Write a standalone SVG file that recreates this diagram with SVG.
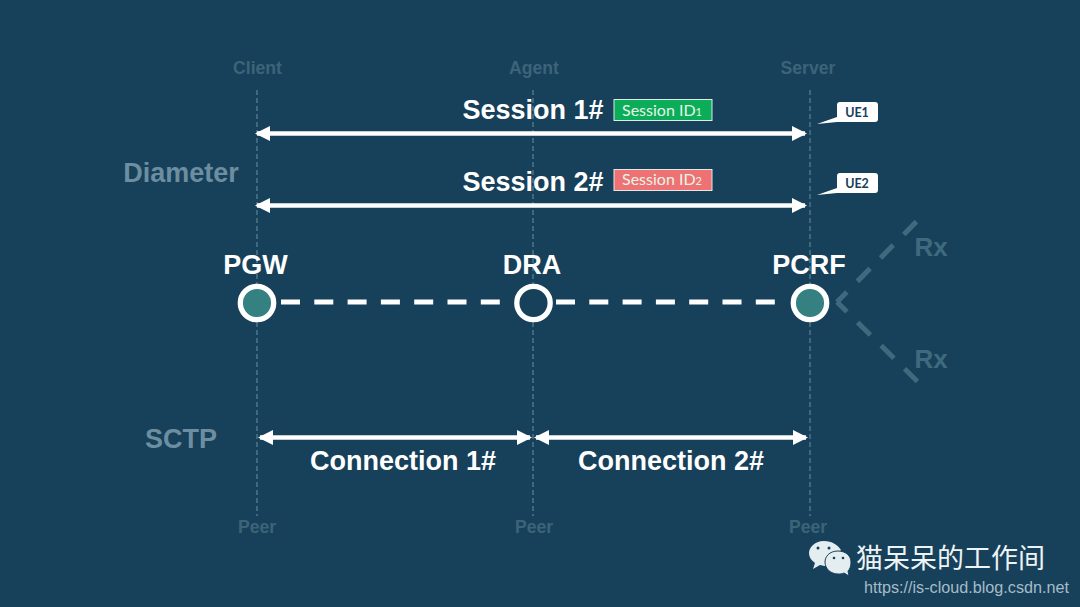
<svg xmlns="http://www.w3.org/2000/svg" width="1080" height="607" viewBox="0 0 1080 607">
<defs>
<style>
text{font-family:"Liberation Sans",Arial,"Noto Sans CJK SC",sans-serif;text-anchor:middle}
.w{fill:#fff;font-weight:700;font-size:27px}
.dim{fill:#3c6479;font-weight:700;font-size:17.600px}
.side{fill:#6c8ea0;font-weight:700;font-size:27px}
.rx{fill:#3f6a7e;font-weight:700;font-size:26px}
.guide{stroke:#6a909f;stroke-width:1;stroke-dasharray:5 3;fill:none}
.arrow{stroke:#fff;stroke-width:4.500;fill:none;marker-start:url(#a);marker-end:url(#a)}
.link{stroke:#fff;stroke-width:5;stroke-dasharray:19 14.300;fill:none}
.rxl{stroke:#3f6a7e;stroke-width:5;stroke-dasharray:18 15;stroke-dashoffset:4;fill:none}
.node{stroke:#fff;stroke-width:5.300}
.ue{fill:#fff}
.uet{fill:#17405a;font-weight:700;font-size:12.500px}
.tag{stroke:#dfe9e6;stroke-width:1}
.tagt{font-size:16px;fill:#e6f5ea}
.tagt,.uet{font-family:Lato,"Liberation Sans",sans-serif}
</style>
<marker id="a" viewBox="0 0 15 15" refX="13" refY="7.500" markerWidth="15" markerHeight="15" markerUnits="userSpaceOnUse" orient="auto-start-reverse"><path d="M0 0L15 7.500L0 15Z" fill="#fff"/></marker>
</defs>
<rect width="1080" height="607" fill="#17405a"/>
<g id="connectors">
<path class="guide" d="M257 90V516M533 90V516M810 90V516"/>
<path class="arrow" d="M257 133.500H805"/>
<path class="arrow" d="M257 205.500H805"/>
<path class="arrow" d="M260 437.500H530"/>
<path class="arrow" d="M536 437.500H806"/>
<path class="link" d="M281 302H500"/>
<path class="link" d="M556 302H778"/>
<path class="rxl" d="M837 302L920 218"/>
<path class="rxl" d="M837 302L921 385"/>
</g>
<g id="label-client"><text class="dim" x="257.500" y="74">Client</text></g>
<g id="label-agent"><text class="dim" x="534" y="74">Agent</text></g>
<g id="label-server"><text class="dim" x="808" y="74">Server</text></g>
<g id="label-peers"><text class="dim" x="257" y="532.500">Peer</text><text class="dim" x="534" y="532.500">Peer</text><text class="dim" x="808" y="532.500">Peer</text></g>
<g id="diameter"><text class="side" x="181" y="182">Diameter</text></g>
<g id="sctp"><text class="side" x="181" y="448">SCTP</text></g>
<g id="session1"><text class="w" x="533" y="118.700">Session 1#</text></g>
<g id="session2"><text class="w" x="533" y="190.700">Session 2#</text></g>
<g id="tag1"><rect class="tag" x="614" y="99.500" width="98" height="21" fill="#0bad58"/><text class="tagt" x="662" y="115.500">Session ID<tspan font-size="11">1</tspan></text></g>
<g id="tag2"><rect class="tag" x="614" y="169.500" width="98" height="21" fill="#ee7273"/><text class="tagt" x="662" y="185">Session ID<tspan font-size="11">2</tspan></text></g>
<g id="ue1"><path class="ue" d="M817 124L837 117V105Q837 102 840 102H875Q878 102 878 105V119Q878 122 875 122H837Z"/><text class="uet" x="857" y="116.500">UE1</text></g>
<g id="ue2"><path class="ue" d="M817 195L837 188V176Q837 173 840 173H875Q878 173 878 176V190Q878 193 875 193H837Z"/><text class="uet" x="857" y="187.500">UE2</text></g>
<g id="pgw"><text class="w" x="255.500" y="273.500">PGW</text><circle class="node" cx="257" cy="303" r="16.700" fill="#358080"/></g>
<g id="dra"><text class="w" x="532" y="273.500">DRA</text><circle class="node" cx="533.500" cy="303" r="16.700" fill="#17405a"/></g>
<g id="pcrf"><text class="w" x="809" y="273.500">PCRF</text><circle class="node" cx="810" cy="303" r="16.700" fill="#358080"/></g>
<g id="rx1"><text class="rx" x="931" y="256">Rx</text></g>
<g id="rx2"><text class="rx" x="931" y="368">Rx</text></g>
<g id="conn1"><text class="w" x="403" y="469.500">Connection 1#</text></g>
<g id="conn2"><text class="w" x="671" y="469.500">Connection 2#</text></g>
<g id="watermark">
<path d="M824 541C814 541 809 548 809 553C809 557 811 560 815 563L813 569L820 565C823 566 826 566 829 566L841 550C838 545 832 541 824 541Z" fill="#e4edf0"/>
<path d="M838 551C829 551 825 557 825 562C825 569 831 574 838 574C840 574 842 574 844 573L849 576L848 571C850 569 851 566 851 562C851 556 846 551 838 551Z" fill="#e4edf0" stroke="#17405a" stroke-width="1"/>
<circle cx="818" cy="548" r="1.500" fill="#17405a"/><circle cx="829" cy="548" r="1.500" fill="#17405a"/>
<circle cx="834" cy="558" r="1.300" fill="#17405a"/><circle cx="843" cy="558" r="1.300" fill="#17405a"/>
<text x="950.500" y="568" font-size="27" fill="#eef3f5" style="font-family:'Noto Sans CJK SC',sans-serif">猫呆呆的工作间</text>
<text x="966.500" y="593" font-size="16.200" fill="#a5bcc8">https://is-cloud.blog.csdn.net</text>
</g>
</svg>
